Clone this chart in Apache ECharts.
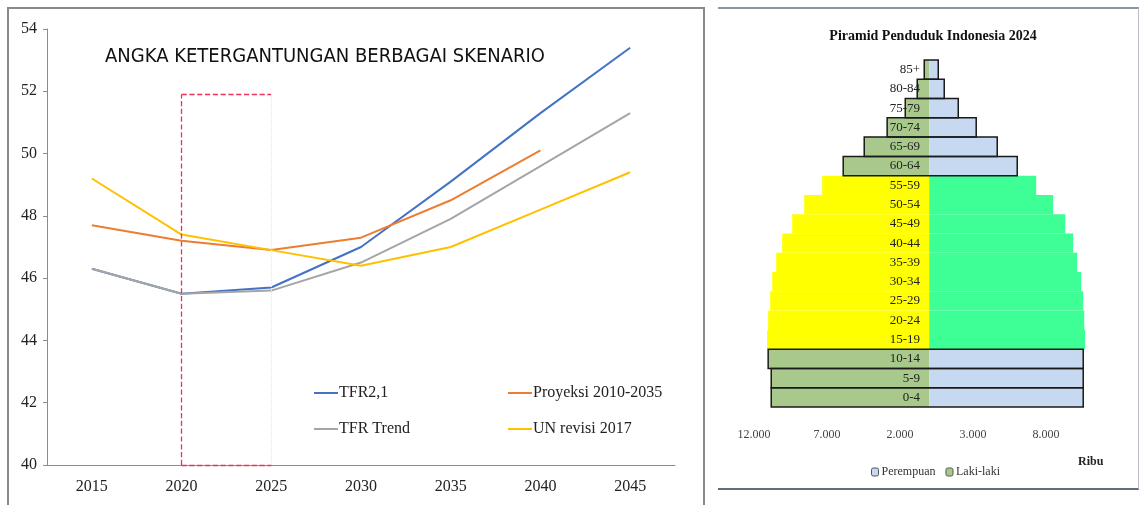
<!DOCTYPE html>
<html>
<head>
<meta charset="utf-8">
<script src="https://cdn.jsdelivr.net/npm/echarts@6/dist/echarts.min.js"></script>
<style>
html, body { margin: 0; padding: 0; background: #fff; }
#chart { position: absolute; left: 0; top: 0; width: 1140px; height: 505px; }
.frame { position: absolute; pointer-events: none; box-sizing: border-box; }
#frameKiri { left: 7px; top: 7px; width: 698px; height: 520px; border: 2px solid #8a8a8a; border-bottom: none; }
#frameKanan { left: 718px; top: 7px; width: 421px; height: 483px; border-top: 2px solid #8c97a5; border-right: 1px solid #b9bec6; border-bottom: 2px solid #5e6e82; }
</style>
</head>
<body>
<div id="chart"></div>
<div class="frame" id="frameKiri"></div>
<div class="frame" id="frameKanan"></div>
<script>
// data grafik kiri
var tahun = ['2015', '2020', '2025', '2030', '2035', '2040', '2045'];
var tfr21 = [46.3, 45.5, 45.7, 47.0, 49.1, 51.3, 53.4];
var proyeksi = [47.7, 47.2, 46.9, 47.3, 48.5, 50.1, null];
var tfrTrend = [46.3, 45.5, 45.6, 46.5, 47.9, 49.6, 51.3];
var unRevisi = [49.2, 47.4, 46.9, 46.4, 47.0, 48.2, 49.4];

// data piramid (ribu jiwa)
var kelompokUmur = ['0-4', '5-9', '10-14', '15-19', '20-24', '25-29', '30-34', '35-39', '40-44',
    '45-49', '50-54', '55-59', '60-64', '65-69', '70-74', '75-79', '80-84', '85+'];
var lakiLaki = [10820, 10820, 11030, 11100, 11030, 10890, 10750, 10480, 10070,
    9380, 8560, 7330, 5890, 4450, 2880, 1640, 820, 340];
var perempuan = [10550, 10550, 10550, 10680, 10620, 10550, 10410, 10140, 9860,
    9320, 8490, 7330, 6030, 4660, 3220, 1990, 1030, 620];
var umurProduktif = ['15-19', '20-24', '25-29', '30-34', '35-39', '40-44', '45-49', '50-54', '55-59'];
var tickPiramid = [-12000, -7000, -2000, 3000, 8000];

var serif = '"Liberation Serif", "Times New Roman", serif';

function formatRibu(v) {
    var s = String(Math.abs(v));
    return s.replace(/\B(?=(\d{3})+(?!\d))/g, '.');
}

var dataLaki = [];
var dataPerempuan = [];
var dataGaris = [];
for (var i = 0; i < kelompokUmur.length; i++) {
    var produktif = umurProduktif.indexOf(kelompokUmur[i]) >= 0;
    dataLaki.push(produktif ? { value: -lakiLaki[i], itemStyle: { color: '#ffff00' } } : -lakiLaki[i]);
    dataPerempuan.push(produktif ? { value: perempuan[i], itemStyle: { color: '#3dff95' } } : perempuan[i]);
    if (!produktif) {
        dataGaris.push([-lakiLaki[i], perempuan[i], i]);
    }
}

var legendGaris = {
    orient: 'vertical', top: 380,
    icon: 'rect', itemWidth: 24, itemHeight: 2, itemGap: 20,
    textStyle: { fontFamily: serif, fontSize: 16, color: '#222', padding: [0, 0, 0, -4] }
};

var myChart = echarts.init(document.getElementById('chart'));
myChart.setOption({
    animation: false,
    title: [{
        text: 'ANGKA KETERGANTUNGAN BERBAGAI SKENARIO',
        left: 100, top: 42,
        textStyle: { fontFamily: '"DejaVu Sans Condensed", "Liberation Sans", sans-serif', fontSize: 20, fontWeight: 'normal', color: '#111' }
    }, {
        text: 'Piramid Penduduk Indonesia 2024',
        left: 928, top: 24, textAlign: 'center',
        textStyle: { fontFamily: serif, fontSize: 14, fontWeight: 'bold', color: '#111' }
    }, {
        text: 'Ribu',
        left: 1073, top: 451,
        textStyle: { fontFamily: serif, fontSize: 12, fontWeight: 'bold', color: '#222' }
    }],
    legend: [
        echarts.util.extend({ data: ['TFR2,1', 'TFR Trend'], left: 309 }, legendGaris),
        echarts.util.extend({ data: ['Proyeksi 2010-2035', 'UN revisi 2017'], left: 503 }, legendGaris),
        {
            data: ['Perempuan', 'Laki-laki'],
            left: 866, top: 461,
            itemWidth: 7, itemHeight: 8, itemGap: 10,
            itemStyle: { borderColor: '#555', borderWidth: 1 },
            textStyle: { fontFamily: serif, fontSize: 12, color: '#333', padding: [0, 0, 0, -2] }
        }
    ],
    grid: [
        { left: 47, top: 29, width: 628, height: 436 },
        { left: 754, top: 60, width: 365, height: 347 }
    ],
    xAxis: [{
        gridIndex: 0,
        type: 'category',
        data: tahun,
        axisLine: { lineStyle: { color: '#8c8c8c' } },
        axisTick: { length: 6, lineStyle: { color: '#8c8c8c' } },
        axisLabel: { fontFamily: serif, fontSize: 16, color: '#222', margin: 14 }
    }, {
        gridIndex: 1,
        type: 'value',
        min: -12000, max: 13000,
        axisLine: { show: false },
        axisTick: { show: false },
        splitLine: { show: false },
        axisLabel: {
            customValues: tickPiramid,
            fontFamily: serif, fontSize: 12, color: '#444', margin: 22,
            formatter: formatRibu
        }
    }],
    yAxis: [{
        gridIndex: 0,
        type: 'value',
        min: 40, max: 54, interval: 2,
        axisLine: { show: true, lineStyle: { color: '#8c8c8c' } },
        axisTick: { show: true, length: 4, lineStyle: { color: '#8c8c8c' } },
        splitLine: { show: false },
        axisLabel: { fontFamily: serif, fontSize: 16, color: '#222', margin: 10 }
    }, {
        gridIndex: 1,
        type: 'category',
        data: kelompokUmur,
        z: 5,
        offset: -175,   // label umur di tengah piramid
        axisLine: { show: false, onZero: false },
        axisTick: { show: false },
        axisLabel: { fontFamily: serif, fontSize: 13, color: '#222', margin: 9 }
    }],
    series: [{
        name: 'TFR2,1', type: 'line', xAxisIndex: 0, yAxisIndex: 0,
        data: tfr21, symbol: 'none', color: '#4472c4', lineStyle: { width: 2 },
        markLine: {
            silent: true, symbol: 'none', label: { show: false },
            lineStyle: { color: '#e8345a', type: 'dashed', width: 1.3 },
            data: [
                [{ coord: ['2020', 40] }, { coord: ['2020', 51.9] }],
                [{ coord: ['2020', 51.9] }, { coord: ['2025', 51.9] }],
                [{ coord: ['2020', 40] }, { coord: ['2025', 40] }],
                [{ coord: ['2025', 40], lineStyle: { color: '#e6e6e6', type: 'dotted', width: 1 } }, { coord: ['2025', 51.9] }]
            ]
        }
    }, {
        name: 'Proyeksi 2010-2035', type: 'line', xAxisIndex: 0, yAxisIndex: 0,
        data: proyeksi, symbol: 'none', color: '#ed7d31', lineStyle: { width: 2 }
    }, {
        name: 'TFR Trend', type: 'line', xAxisIndex: 0, yAxisIndex: 0,
        data: tfrTrend, symbol: 'none', color: '#a5a5a5', lineStyle: { width: 2 }
    }, {
        name: 'UN revisi 2017', type: 'line', xAxisIndex: 0, yAxisIndex: 0,
        data: unRevisi, symbol: 'none', color: '#ffc000', lineStyle: { width: 2 }
    }, {
        name: 'Laki-laki', type: 'bar', xAxisIndex: 1, yAxisIndex: 1,
        data: dataLaki, color: '#a9c98c', barWidth: '100%', barGap: '-100%'
    }, {
        name: 'Perempuan', type: 'bar', xAxisIndex: 1, yAxisIndex: 1,
        data: dataPerempuan, color: '#c6d9f0', barWidth: '100%', barGap: '-100%'
    }, {
        name: 'garis', type: 'custom', xAxisIndex: 1, yAxisIndex: 1,
        data: dataGaris, silent: true, z: 3,
        encode: { x: [0, 1], y: 2 },
        renderItem: function (params, api) {
            var idx = api.value(2);
            var kiri = api.coord([api.value(0), idx]);
            var kanan = api.coord([api.value(1), idx]);
            var tinggi = api.size([0, 1])[1];
            return {
                type: 'rect',
                shape: { x: kiri[0], y: kiri[1] - tinggi / 2, width: kanan[0] - kiri[0], height: tinggi },
                style: { fill: 'none', stroke: '#1a1a1a', lineWidth: 1.5 }
            };
        }
    }]
});
</script>
</body>
</html>
